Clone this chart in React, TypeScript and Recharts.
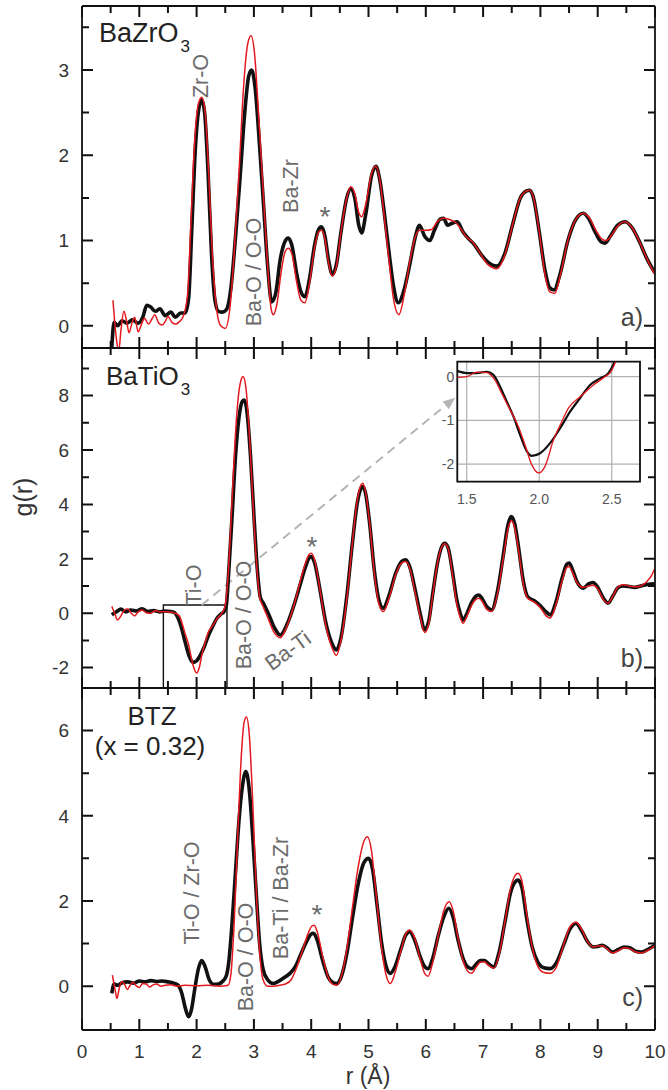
import {
  CartesianGrid,
  Line,
  LineChart,
  ReferenceArea,
  ReferenceLine,
  XAxis,
  YAxis,
} from "recharts";

// r (Å), g(r) pairs. "exp" = black crosses, "fit" = red line.
type Pt = [number, number];

const bzoExp: Pt[] = [
  [0.52, -0.25], [0.56, 0.04], [0.62, 0.0], [0.7, 0.06], [0.78, 0.03], [0.88, 0.07], [0.98, 0.03],
  [1.06, 0.1], [1.13, 0.24], [1.2, 0.22], [1.28, 0.17], [1.36, 0.2], [1.45, 0.12], [1.55, 0.16],
  [1.63, 0.1], [1.72, 0.15], [1.8, 0.15], [1.86, 0.32], [1.92, 1.2], [1.98, 2.1], [2.04, 2.55],
  [2.09, 2.65], [2.14, 2.5], [2.2, 1.8], [2.26, 0.85], [2.32, 0.3], [2.38, 0.17], [2.45, 0.16],
  [2.52, 0.19], [2.6, 0.45], [2.68, 1.05], [2.76, 1.75], [2.84, 2.5], [2.91, 2.93], [2.96, 3.0],
  [3.02, 2.8], [3.1, 2.1], [3.17, 1.4], [3.24, 0.7], [3.31, 0.28], [3.38, 0.38], [3.46, 0.78],
  [3.55, 1.0], [3.6, 1.03], [3.66, 0.95], [3.75, 0.6], [3.82, 0.4], [3.89, 0.34], [3.97, 0.55],
  [4.06, 0.95], [4.13, 1.13], [4.18, 1.16], [4.24, 1.05], [4.3, 0.78], [4.37, 0.6], [4.44, 0.72],
  [4.52, 1.1], [4.62, 1.5], [4.69, 1.61], [4.76, 1.5], [4.83, 1.18], [4.88, 1.09], [4.95, 1.3],
  [5.05, 1.75], [5.13, 1.87], [5.2, 1.7], [5.28, 1.3], [5.36, 0.85], [5.44, 0.45], [5.52, 0.27],
  [5.62, 0.42], [5.72, 0.72], [5.82, 1.05], [5.89, 1.18], [5.98, 1.05], [6.07, 1.0], [6.15, 1.12],
  [6.25, 1.25], [6.31, 1.26], [6.38, 1.18], [6.45, 1.2], [6.55, 1.22], [6.65, 1.1], [6.75, 1.02],
  [6.85, 0.95], [6.95, 0.85], [7.08, 0.75], [7.24, 0.7], [7.38, 0.85], [7.52, 1.2], [7.65, 1.5],
  [7.75, 1.58], [7.81, 1.59], [7.88, 1.5], [7.98, 1.1], [8.08, 0.65], [8.16, 0.45], [8.24, 0.42],
  [8.34, 0.6], [8.48, 1.0], [8.62, 1.25], [8.75, 1.32], [8.85, 1.25], [8.97, 1.08], [9.07, 0.98],
  [9.13, 0.97], [9.22, 1.05], [9.35, 1.18], [9.48, 1.22], [9.6, 1.15], [9.72, 1.0], [9.85, 0.8],
  [10.0, 0.62],
];

const bzoFit: Pt[] = [
  [0.54, 0.3], [0.6, -0.15], [0.64, -0.3], [0.68, -0.05], [0.73, 0.17], [0.78, 0.05], [0.82, -0.08],
  [0.88, 0.05], [0.92, 0.1], [0.98, -0.07], [1.04, 0.02], [1.09, 0.09], [1.16, 0.02], [1.22, 0.08],
  [1.27, 0.13], [1.34, 0.03], [1.4, 0.01], [1.46, 0.06], [1.5, 0.11], [1.57, 0.04], [1.64, 0.02],
  [1.7, 0.05], [1.76, 0.1], [1.84, 0.35], [1.9, 1.2], [1.96, 2.1], [2.03, 2.6], [2.09, 2.68],
  [2.15, 2.5], [2.21, 1.8], [2.27, 0.9], [2.34, 0.25], [2.42, 0.0], [2.5, -0.03], [2.58, 0.2],
  [2.66, 0.9], [2.74, 1.8], [2.82, 2.8], [2.89, 3.3], [2.95, 3.4], [3.01, 3.2], [3.08, 2.5],
  [3.16, 1.6], [3.24, 0.7], [3.3, 0.2], [3.34, 0.13], [3.4, 0.25], [3.48, 0.65], [3.55, 0.88],
  [3.6, 0.91], [3.66, 0.85], [3.75, 0.5], [3.82, 0.3], [3.89, 0.27], [3.97, 0.5], [4.06, 0.92],
  [4.13, 1.1], [4.18, 1.12], [4.24, 1.02], [4.3, 0.75], [4.37, 0.58], [4.44, 0.7], [4.52, 1.1],
  [4.62, 1.5], [4.69, 1.63], [4.76, 1.55], [4.83, 1.33], [4.88, 1.28], [4.95, 1.42], [5.05, 1.78],
  [5.13, 1.87], [5.2, 1.7], [5.28, 1.25], [5.36, 0.75], [5.44, 0.3], [5.53, 0.13], [5.62, 0.35],
  [5.72, 0.75], [5.82, 1.05], [5.9, 1.12], [6.0, 1.12], [6.1, 1.13], [6.2, 1.22], [6.3, 1.26],
  [6.4, 1.25], [6.5, 1.22], [6.6, 1.15], [6.7, 1.05], [6.82, 0.98], [6.95, 0.85], [7.08, 0.72],
  [7.24, 0.67], [7.38, 0.83], [7.52, 1.2], [7.65, 1.5], [7.75, 1.58], [7.81, 1.59], [7.88, 1.5],
  [7.98, 1.1], [8.08, 0.6], [8.16, 0.4], [8.25, 0.38], [8.35, 0.6], [8.48, 1.0], [8.62, 1.25],
  [8.75, 1.32], [8.85, 1.27], [8.97, 1.12], [9.07, 1.02], [9.15, 1.0], [9.25, 1.07], [9.35, 1.17],
  [9.48, 1.22], [9.6, 1.15], [9.72, 1.0], [9.85, 0.8], [10.0, 0.6],
];

const btoExp: Pt[] = [
  [0.52, -0.06], [0.6, 0.05], [0.68, 0.15], [0.76, 0.05], [0.85, 0.12], [0.95, 0.08], [1.05, 0.16],
  [1.15, 0.06], [1.25, 0.1], [1.35, 0.05], [1.45, 0.08], [1.55, 0.06], [1.6, 0.04], [1.68, -0.2],
  [1.73, -0.5], [1.78, -0.9], [1.82, -1.22], [1.87, -1.58], [1.92, -1.78], [1.95, -1.81], [2.0, -1.75],
  [2.07, -1.52], [2.14, -1.2], [2.21, -0.8], [2.28, -0.49], [2.35, -0.2], [2.42, -0.04], [2.48, 0.06],
  [2.52, 0.3], [2.56, 1.5], [2.62, 3.6], [2.68, 5.8], [2.74, 7.2], [2.8, 7.8], [2.83, 7.84],
  [2.88, 7.4], [2.94, 5.8], [3.0, 3.6], [3.06, 1.6], [3.11, 0.6], [3.17, 0.35], [3.25, 0.0],
  [3.35, -0.5], [3.46, -0.8], [3.6, -0.3], [3.7, 0.3], [3.8, 1.0], [3.9, 1.7], [3.96, 2.02],
  [4.0, 2.08], [4.06, 1.85], [4.15, 0.9], [4.25, -0.3], [4.35, -1.05], [4.44, -1.35], [4.52, -0.9],
  [4.62, 0.6], [4.72, 2.6], [4.8, 4.0], [4.87, 4.6], [4.9, 4.66], [4.95, 4.4], [5.02, 3.3],
  [5.1, 1.6], [5.18, 0.5], [5.26, 0.18], [5.35, 0.6], [5.48, 1.5], [5.58, 1.9], [5.65, 1.96],
  [5.72, 1.7], [5.82, 0.8], [5.9, 0.0], [5.98, -0.61], [6.05, -0.3], [6.12, 0.7], [6.2, 1.8],
  [6.28, 2.45], [6.33, 2.57], [6.39, 2.4], [6.46, 1.6], [6.54, 0.5], [6.6, 0.0], [6.65, -0.25],
  [6.72, 0.0], [6.8, 0.4], [6.87, 0.62], [6.92, 0.67], [6.98, 0.55], [7.06, 0.25], [7.15, 0.12],
  [7.25, 0.8], [7.35, 2.1], [7.43, 3.2], [7.49, 3.55], [7.55, 3.3], [7.62, 2.4], [7.7, 1.2],
  [7.78, 0.6], [7.9, 0.45], [8.0, 0.27], [8.1, 0.05], [8.17, -0.06], [8.27, 0.4], [8.38, 1.3],
  [8.46, 1.8], [8.5, 1.84], [8.56, 1.6], [8.64, 1.15], [8.75, 0.92], [8.84, 1.08], [8.92, 1.13],
  [9.0, 0.95], [9.1, 0.55], [9.18, 0.37], [9.27, 0.65], [9.36, 0.95], [9.45, 1.0], [9.55, 0.98],
  [9.65, 0.95], [9.75, 1.0], [9.85, 1.05], [9.97, 1.08], [10.0, 1.05],
];

const btoFit: Pt[] = [
  [0.52, 0.25], [0.57, 0.0], [0.62, -0.25], [0.68, -0.1], [0.74, 0.12], [0.8, 0.15], [0.86, 0.0],
  [0.92, -0.1], [0.98, 0.05], [1.05, 0.12], [1.12, 0.02], [1.2, 0.0], [1.28, 0.1], [1.36, 0.05],
  [1.45, 0.05], [1.55, 0.04], [1.62, 0.0], [1.7, -0.1], [1.75, -0.4], [1.8, -0.76], [1.86, -1.16],
  [1.9, -1.56], [1.95, -2.0], [2.0, -2.2], [2.04, -2.05], [2.1, -1.45], [2.16, -1.0], [2.2, -0.72],
  [2.28, -0.46], [2.36, -0.19], [2.44, 0.0], [2.5, 0.3], [2.55, 1.4], [2.61, 3.8], [2.67, 6.3],
  [2.73, 8.0], [2.78, 8.6], [2.81, 8.7], [2.86, 8.3], [2.92, 6.6], [2.98, 4.2], [3.04, 2.0],
  [3.1, 0.6], [3.17, 0.2], [3.25, -0.2], [3.35, -0.7], [3.46, -0.9], [3.6, -0.35], [3.7, 0.3],
  [3.8, 1.1], [3.9, 1.85], [3.96, 2.15], [4.0, 2.2], [4.06, 1.95], [4.15, 0.9], [4.25, -0.4],
  [4.35, -1.2], [4.44, -1.55], [4.52, -1.0], [4.62, 0.5], [4.72, 2.6], [4.8, 4.1], [4.87, 4.72],
  [4.9, 4.78], [4.95, 4.45], [5.02, 3.3], [5.1, 1.5], [5.18, 0.35], [5.26, 0.06], [5.35, 0.5],
  [5.48, 1.45], [5.58, 1.85], [5.65, 1.9], [5.72, 1.65], [5.82, 0.7], [5.9, -0.1], [5.98, -0.71],
  [6.05, -0.4], [6.12, 0.65], [6.2, 1.8], [6.28, 2.45], [6.33, 2.55], [6.39, 2.38], [6.46, 1.5],
  [6.54, 0.35], [6.6, -0.15], [6.65, -0.37], [6.72, -0.1], [6.8, 0.3], [6.87, 0.5], [6.92, 0.55],
  [6.98, 0.45], [7.06, 0.15], [7.15, 0.06], [7.25, 0.7], [7.35, 2.0], [7.43, 3.05], [7.49, 3.4],
  [7.55, 3.15], [7.62, 2.3], [7.7, 1.1], [7.78, 0.55], [7.9, 0.4], [8.0, 0.2], [8.1, -0.1],
  [8.17, -0.18], [8.27, 0.3], [8.38, 1.2], [8.46, 1.68], [8.5, 1.72], [8.56, 1.5], [8.64, 1.12],
  [8.75, 0.95], [8.84, 1.0], [8.92, 1.03], [9.0, 0.9], [9.1, 0.5], [9.18, 0.37], [9.27, 0.65],
  [9.36, 0.98], [9.45, 1.05], [9.55, 1.0], [9.65, 0.97], [9.75, 1.0], [9.85, 1.15], [9.93, 1.35],
  [10.0, 1.65],
];

// zoomed Ti-O dip (inset)
const insetExp: Pt[] = [
  [1.435, 0.13], [1.5, 0.08], [1.569, 0.08], [1.638, 0.11], [1.684, 0.04], [1.73, -0.23],
  [1.776, -0.57], [1.822, -0.91], [1.868, -1.33], [1.914, -1.7], [1.948, -1.81], [2.006, -1.75],
  [2.075, -1.52], [2.144, -1.18], [2.213, -0.8], [2.282, -0.49], [2.351, -0.19], [2.42, -0.04],
  [2.477, 0.08], [2.511, 0.27], [2.534, 0.45],
];

const insetFit: Pt[] = [
  [1.435, -0.02], [1.5, 0.0], [1.569, 0.1], [1.638, 0.09], [1.695, -0.08], [1.741, -0.38],
  [1.799, -0.76], [1.856, -1.14], [1.902, -1.56], [1.948, -2.01], [1.998, -2.2], [2.04, -2.05],
  [2.098, -1.45], [2.155, -1.03], [2.201, -0.72], [2.282, -0.46], [2.374, -0.19], [2.455, 0.0],
  [2.494, 0.11], [2.522, 0.3], [2.54, 0.45],
];

const btzExp: Pt[] = [
  [0.52, -0.17], [0.56, 0.05], [0.62, 0.02], [0.7, 0.08], [0.8, 0.1], [0.9, 0.07], [1.0, 0.12],
  [1.1, 0.1], [1.2, 0.13], [1.3, 0.11], [1.4, 0.12], [1.5, 0.1], [1.6, 0.07], [1.67, 0.03],
  [1.74, -0.16], [1.8, -0.5], [1.86, -0.72], [1.91, -0.55], [1.97, -0.05], [2.03, 0.4], [2.09, 0.6],
  [2.15, 0.45], [2.22, 0.15], [2.3, 0.04], [2.38, 0.05], [2.46, 0.12], [2.52, 0.25], [2.56, 0.55],
  [2.62, 1.5], [2.68, 2.7], [2.74, 3.9], [2.8, 4.7], [2.86, 5.04], [2.92, 4.6], [2.98, 3.5],
  [3.04, 2.2], [3.1, 1.0], [3.16, 0.4], [3.24, 0.15], [3.34, 0.06], [3.45, 0.13], [3.55, 0.22],
  [3.63, 0.3], [3.72, 0.45], [3.82, 0.75], [3.92, 1.05], [4.0, 1.22], [4.04, 1.24], [4.1, 1.1],
  [4.2, 0.6], [4.3, 0.2], [4.38, 0.08], [4.44, 0.06], [4.52, 0.2], [4.62, 0.75], [4.72, 1.6],
  [4.82, 2.4], [4.92, 2.9], [5.0, 3.0], [5.07, 2.75], [5.15, 1.9], [5.23, 1.0], [5.3, 0.5],
  [5.38, 0.3], [5.46, 0.45], [5.56, 0.85], [5.65, 1.2], [5.72, 1.28], [5.8, 1.1], [5.9, 0.7],
  [5.97, 0.48], [6.04, 0.41], [6.12, 0.65], [6.22, 1.2], [6.32, 1.65], [6.4, 1.83], [6.48, 1.6],
  [6.56, 1.1], [6.65, 0.65], [6.73, 0.45], [6.8, 0.41], [6.88, 0.52], [6.95, 0.6], [7.02, 0.6],
  [7.1, 0.52], [7.18, 0.45], [7.28, 0.8], [7.38, 1.5], [7.48, 2.2], [7.56, 2.45], [7.61, 2.49],
  [7.68, 2.3], [7.76, 1.6], [7.86, 0.9], [7.96, 0.55], [8.06, 0.43], [8.17, 0.41], [8.28, 0.55],
  [8.4, 0.95], [8.52, 1.35], [8.62, 1.47], [8.72, 1.3], [8.82, 1.05], [8.92, 0.92], [9.0, 0.93],
  [9.08, 0.96], [9.16, 0.9], [9.26, 0.8], [9.36, 0.86], [9.46, 0.92], [9.56, 0.9], [9.66, 0.82],
  [9.76, 0.8], [9.86, 0.85], [10.0, 0.96],
];

const btzFit: Pt[] = [
  [0.53, 0.26], [0.58, -0.1], [0.61, -0.29], [0.65, -0.05], [0.69, 0.1], [0.74, 0.05], [0.79, -0.08],
  [0.84, 0.02], [0.89, 0.09], [0.95, 0.0], [1.0, -0.03], [1.06, 0.06], [1.12, 0.05], [1.18, -0.02],
  [1.24, 0.03], [1.3, 0.05], [1.38, 0.0], [1.45, 0.02], [1.55, 0.03], [1.65, 0.0], [1.8, 0.02],
  [2.0, 0.01], [2.2, 0.02], [2.4, 0.0], [2.55, 0.02], [2.6, 0.3], [2.66, 1.6], [2.72, 3.6],
  [2.78, 5.4], [2.83, 6.2], [2.87, 6.32], [2.92, 5.9], [2.98, 4.3], [3.04, 2.3], [3.1, 0.8],
  [3.16, 0.15], [3.24, 0.0], [3.34, 0.0], [3.45, 0.02], [3.55, 0.05], [3.65, 0.15], [3.75, 0.45],
  [3.85, 0.85], [3.95, 1.25], [4.02, 1.42], [4.05, 1.43], [4.1, 1.3], [4.2, 0.7], [4.3, 0.2],
  [4.38, 0.04], [4.45, 0.02], [4.52, 0.2], [4.62, 0.85], [4.72, 1.85], [4.82, 2.8], [4.92, 3.4],
  [4.98, 3.51], [5.05, 3.2], [5.13, 2.2], [5.22, 1.0], [5.3, 0.3], [5.38, 0.06], [5.46, 0.3],
  [5.56, 0.8], [5.65, 1.22], [5.72, 1.32], [5.8, 1.15], [5.9, 0.65], [5.98, 0.3], [6.04, 0.23],
  [6.12, 0.55], [6.22, 1.2], [6.32, 1.8], [6.41, 1.98], [6.48, 1.75], [6.56, 1.15], [6.65, 0.6],
  [6.73, 0.35], [6.8, 0.3], [6.88, 0.45], [6.95, 0.56], [7.02, 0.57], [7.1, 0.48], [7.19, 0.42],
  [7.28, 0.75], [7.38, 1.5], [7.48, 2.3], [7.56, 2.6], [7.61, 2.65], [7.68, 2.45], [7.76, 1.7],
  [7.86, 0.9], [7.96, 0.45], [8.06, 0.32], [8.17, 0.3], [8.28, 0.45], [8.4, 0.95], [8.52, 1.4],
  [8.62, 1.5], [8.72, 1.33], [8.82, 1.05], [8.92, 0.92], [9.0, 0.94], [9.08, 0.95], [9.16, 0.88],
  [9.26, 0.78], [9.36, 0.83], [9.46, 0.9], [9.56, 0.88], [9.66, 0.8], [9.76, 0.78], [9.86, 0.83],
  [10.0, 0.96],
];

const X_MAJOR = [0, 1, 2, 3, 4, 5, 6, 7, 8, 9, 10];
const X_MINOR = [0.5, 1.5, 2.5, 3.5, 4.5, 5.5, 6.5, 7.5, 8.5, 9.5];

const Y_MAJOR_A = [0, 1, 2, 3];
const Y_MINOR_A = [0.5, 1.5, 2.5, 3.5];
const Y_MAJOR_B = [-2, 0, 2, 4, 6, 8];
const Y_MINOR_B = [-1, 1, 3, 5, 7, 9];
const Y_MAJOR_C = [0, 2, 4, 6];
const Y_MINOR_C = [1, 3, 5];

const INSET_X_TICKS = [1.5, 2.0, 2.5];
const INSET_Y_TICKS = [-2, -1, 0];

const FONT = '"Liberation Sans", Arial, Helvetica, sans-serif';
const AXIS = "#111";
const EXP = "#111";
const FIT = "#e3191d";
const NOTE = "#6b6b6b";
const TICK_TEXT = { fill: "#333", fontSize: 19 };

const PAGE_W = 668;
const PLOT_L = 82;
const PLOT_R = 655;
const X_DOMAIN: [number, number] = [0, 10];
const EDGE = 0.01; // axes need a size > 0 or recharts drops them

const MAJOR_LEN = 11;
const MINOR_LEN = 7;

interface Frame {
  top: number;
  bottom: number;
  yDomain: [number, number];
  yMajor: number[];
  yMinor: number[];
}

const FRAME_A: Frame = { top: 6, bottom: 348, yDomain: [-0.26, 3.75], yMajor: Y_MAJOR_A, yMinor: Y_MINOR_A };
const FRAME_B: Frame = { top: 348, bottom: 688, yDomain: [-2.75, 9.75], yMajor: Y_MAJOR_B, yMinor: Y_MINOR_B };
const FRAME_C: Frame = { top: 688, bottom: 1030, yDomain: [-1.03, 7.0], yMajor: Y_MAJOR_C, yMinor: Y_MINOR_C };

const toPts = (a: Pt[]) => a.map(([r, g]) => ({ r, g }));

const axisLine = { stroke: AXIS, strokeWidth: 1.8 };

// frame: four axis lines; only bottom (panel c) and left carry labels
function frameAxes(yDomain: [number, number], yMajor: number[], xLabels: boolean) {
  const x = { type: "number" as const, dataKey: "r", domain: X_DOMAIN, allowDataOverflow: true, interval: 0 as const };
  const y = { type: "number" as const, domain: yDomain, allowDataOverflow: true, interval: 0 as const };
  return [
    <XAxis key="xb" xAxisId="bottom" {...x} orientation="bottom" height={EDGE} ticks={X_MAJOR}
      tickSize={0} tickMargin={14.5} tickLine={false} axisLine={axisLine}
      tick={xLabels ? TICK_TEXT : false} />,
    <XAxis key="xt" xAxisId="top" {...x} orientation="top" height={EDGE} ticks={X_MAJOR}
      tickLine={false} axisLine={axisLine} tick={false} />,
    <YAxis key="yl" yAxisId="left" {...y} width={EDGE} ticks={yMajor}
      tickSize={0} tickMargin={13} tickLine={false} axisLine={axisLine} tick={TICK_TEXT} />,
    <YAxis key="yr" yAxisId="right" orientation="right" {...y} width={EDGE} ticks={yMajor}
      tickLine={false} axisLine={axisLine} tick={false} />,
  ];
}

// inward tick marks on all four sides of a frame (same linear mapping as the axes)
function FrameTicks({ f }: { f: Frame }) {
  const sx = (v: number) => PLOT_L + ((v - X_DOMAIN[0]) / (X_DOMAIN[1] - X_DOMAIN[0])) * (PLOT_R - PLOT_L);
  const sy = (v: number) =>
    f.bottom - ((v - f.yDomain[0]) / (f.yDomain[1] - f.yDomain[0])) * (f.bottom - f.top);
  const xs = [...X_MAJOR.map((v) => [v, MAJOR_LEN]), ...X_MINOR.map((v) => [v, MINOR_LEN])];
  const ys = [...f.yMajor.map((v) => [v, MAJOR_LEN]), ...f.yMinor.map((v) => [v, MINOR_LEN])];
  let d = "";
  for (const [v, len] of xs) {
    const x = sx(v);
    d += `M${x},${f.top}v${len}M${x},${f.bottom}v${-len}`;
  }
  for (const [v, len] of ys) {
    const y = sy(v);
    d += `M${PLOT_L},${y}h${len}M${PLOT_R},${y}h${-len}`;
  }
  return <path d={d} stroke={AXIS} strokeWidth={2} fill="none" />;
}

function ArrowShape(props: any) {
  const { x1, y1, x2, y2 } = props;
  if (x1 == null || x2 == null) return <g />;
  const ang = Math.atan2(y2 - y1, x2 - x1);
  const len = 12;
  const half = 5;
  const bx = x2 - len * Math.cos(ang);
  const by = y2 - len * Math.sin(ang);
  const pts = `${x2},${y2} ${bx - half * Math.sin(ang)},${by + half * Math.cos(ang)} ${
    bx + half * Math.sin(ang)
  },${by - half * Math.cos(ang)}`;
  return (
    <g>
      <line x1={x1} y1={y1} x2={bx} y2={by} stroke="#b4b4b4" strokeWidth={2} strokeDasharray="9 6" />
      <polygon points={pts} fill="#b4b4b4" />
    </g>
  );
}

interface PanelProps {
  frame: Frame;
  chartTop: number;
  bottomSpace: number;
  exp: Pt[];
  fit: Pt[];
  xLabels?: boolean;
  zoomBox?: boolean;
}

function Panel({ frame, chartTop, bottomSpace, exp, fit, xLabels = false, zoomBox = false }: PanelProps) {
  const mTop = frame.top - chartTop;
  const height = frame.bottom - chartTop + bottomSpace;
  return (
    <div style={{ position: "absolute", left: 0, top: chartTop }}>
      <LineChart
        width={PAGE_W}
        height={height}
        margin={{ top: mTop, right: PAGE_W - PLOT_R, bottom: bottomSpace, left: PLOT_L }}
      >
        {frameAxes(frame.yDomain, frame.yMajor, xLabels)}
        {zoomBox && (
          <ReferenceArea
            xAxisId="bottom"
            yAxisId="left"
            x1={1.42}
            x2={2.53}
            y1={frame.yDomain[0]}
            y2={0.3}
            fill="none"
            stroke="#111"
            strokeWidth={1.4}
            ifOverflow="visible"
          />
        )}
        {zoomBox && (
          <ReferenceLine
            xAxisId="bottom"
            yAxisId="left"
            segment={[
              { x: 2.09, y: 0.3 },
              { x: 6.51, y: 7.92 },
            ]}
            ifOverflow="visible"
            shape={ArrowShape}
          />
        )}
        <Line
          xAxisId="bottom"
          yAxisId="left"
          data={toPts(exp)}
          dataKey="g"
          type="monotone"
          stroke={EXP}
          strokeWidth={3.6}
          dot={false}
          activeDot={false}
          isAnimationActive={false}
        />
        <Line
          xAxisId="bottom"
          yAxisId="left"
          data={toPts(fit)}
          dataKey="g"
          type="monotone"
          stroke={FIT}
          strokeWidth={1.5}
          dot={false}
          activeDot={false}
          isAnimationActive={false}
        />
      </LineChart>
    </div>
  );
}

function Inset() {
  return (
    <div style={{ position: "absolute", left: 420, top: 355 }}>
      <LineChart width={230} height={160} margin={{ top: 6.7, right: 10, bottom: 0, left: 0 }}>
        <CartesianGrid stroke="#b0b0b0" strokeWidth={1.2} fill="#fff" fillOpacity={1} />
        <XAxis
          type="number"
          dataKey="r"
          domain={[1.435, 2.695]}
          allowDataOverflow
          ticks={INSET_X_TICKS}
          interval={0}
          height={33.3}
          tickSize={0}
          tickMargin={12}
          tickLine={false}
          axisLine={false}
          tickFormatter={(v: number) => v.toFixed(1)}
          tick={{ fill: "#555", fontSize: 14 }}
        />
        <YAxis
          type="number"
          domain={[-2.4, 0.34]}
          allowDataOverflow
          ticks={INSET_Y_TICKS}
          interval={0}
          width={37.3}
          tickSize={0}
          tickMargin={3}
          tickLine={false}
          axisLine={false}
          tick={{ fill: "#555", fontSize: 14 }}
        />
        <Line
          data={toPts(insetExp)}
          dataKey="g"
          type="monotone"
          stroke={EXP}
          strokeWidth={2.2}
          dot={false}
          activeDot={false}
          isAnimationActive={false}
        />
        <Line
          data={toPts(insetFit)}
          dataKey="g"
          type="monotone"
          stroke={FIT}
          strokeWidth={1.3}
          dot={false}
          activeDot={false}
          isAnimationActive={false}
        />
        <ReferenceArea
          x1={1.435}
          x2={2.695}
          y1={-2.4}
          y2={0.34}
          fill="none"
          stroke="#111"
          strokeWidth={1.8}
          ifOverflow="visible"
        />
      </LineChart>
    </div>
  );
}

function Note({ x, y, text, angle = -90 }: { x: number; y: number; text: string; angle?: number }) {
  return (
    <text
      x={x}
      y={y}
      fontSize={21.5}
      fill={NOTE}
      textAnchor="middle"
      dominantBaseline="central"
      transform={`rotate(${angle} ${x} ${y})`}
    >
      {text}
    </text>
  );
}

function Star({ x, y }: { x: number; y: number }) {
  return (
    <text x={x} y={y} fontSize={28} fill={NOTE} textAnchor="middle">
      *
    </text>
  );
}

export default function App() {
  return (
    <div
      style={{
        position: "absolute",
        left: 0,
        top: 0,
        width: PAGE_W,
        height: 1090,
        background: "#fff",
        fontFamily: FONT,
      }}
    >
      <style>{".recharts-surface{overflow:visible}"}</style>
      <Panel frame={FRAME_A} chartTop={0} bottomSpace={2} exp={bzoExp} fit={bzoFit} />
      <Panel frame={FRAME_B} chartTop={346} bottomSpace={2} exp={btoExp} fit={btoFit} zoomBox />
      <Panel frame={FRAME_C} chartTop={686} bottomSpace={60} exp={btzExp} fit={btzFit} xLabels />
      <Inset />
      <svg
        width={PAGE_W}
        height={1090}
        style={{ position: "absolute", left: 0, top: 0, pointerEvents: "none" }}
      >
        <FrameTicks f={FRAME_A} />
        <FrameTicks f={FRAME_B} />
        <FrameTicks f={FRAME_C} />
        <g fontFamily={FONT}>
          <text x={99} y={42} fontSize={27} fill="#222">
            BaZrO<tspan fontSize={17} dx={2} dy={10}>3</tspan>
          </text>
          <text x={106} y={385} fontSize={26} fill="#222">
            BaTiO<tspan fontSize={17} dx={2} dy={10}>3</tspan>
          </text>
          <text x={152} y={725} fontSize={26} fill="#222" textAnchor="middle">
            BTZ
          </text>
          <text x={150} y={755} fontSize={26} fill="#222" textAnchor="middle">
            (x = 0.32)
          </text>
          <text x={643} y={326} fontSize={25} fill="#444" textAnchor="end">
            a)
          </text>
          <text x={643} y={667} fontSize={25} fill="#444" textAnchor="end">
            b)
          </text>
          <text x={643} y={1006} fontSize={25} fill="#444" textAnchor="end">
            c)
          </text>

          <Note x={201} y={76} text="Zr-O" />
          <Note x={254} y={272} text="Ba-O / O-O" />
          <Note x={291} y={186} text="Ba-Zr" />
          <Star x={325} y={226} />

          <Note x={194} y={585} text="Ti-O" />
          <Note x={244} y={615} text="Ba-O / O-O" />
          <Note x={288} y={651} text="Ba-Ti" angle={-36} />
          <Star x={312} y={556} />

          <Note x={192} y={893} text="Ti-O / Zr-O" />
          <Note x={246} y={957} text="Ba-O / O-O" />
          <Note x={281} y={898} text="Ba-Ti / Ba-Zr" />
          <Star x={317} y={924} />

          <text
            x={23}
            y={497}
            fontSize={25}
            fill="#333"
            textAnchor="middle"
            dominantBaseline="central"
            transform="rotate(-90 23 497)"
          >
            g(r)
          </text>
          <text x={368} y={1084} fontSize={23} fill="#333" textAnchor="middle">
            r (Å)
          </text>
        </g>
      </svg>
    </div>
  );
}
